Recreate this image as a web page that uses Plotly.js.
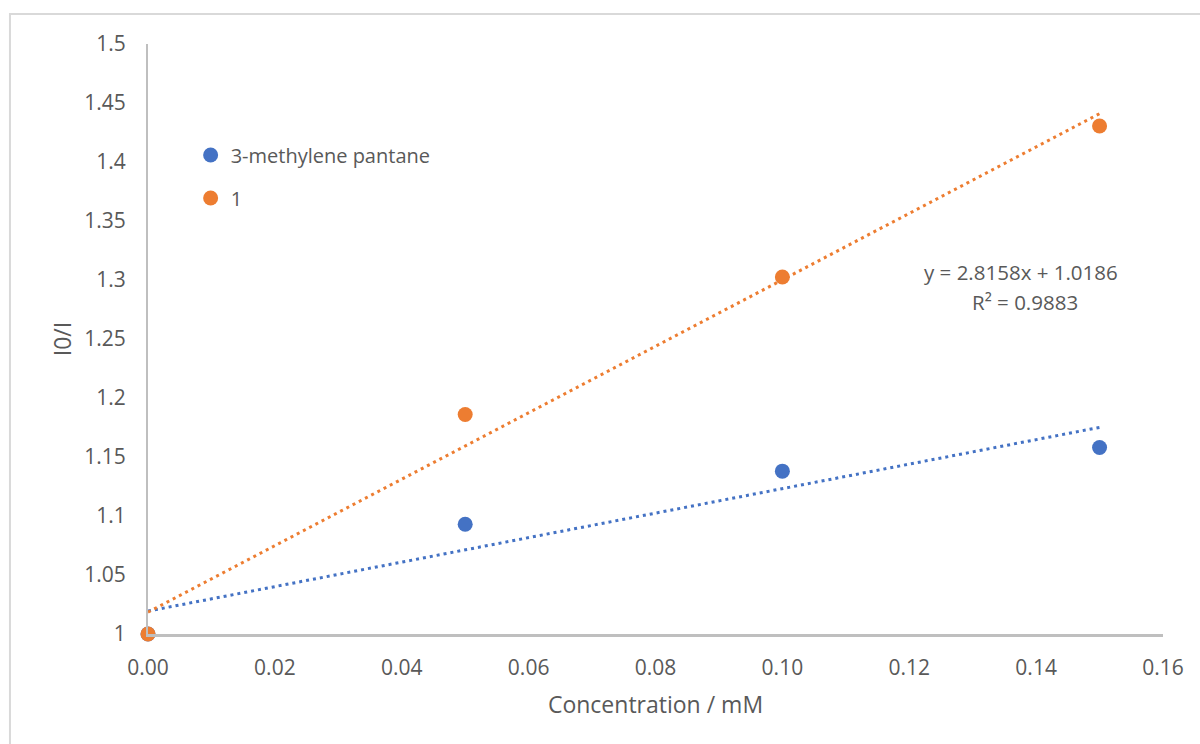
<!DOCTYPE html>
<html>
<head>
<meta charset="utf-8">
<script src="https://cdn.plot.ly/plotly-3.0.1.min.js"></script>
<style>html,body{margin:0;padding:0;background:#fff;}#chart{width:1200px;height:744px;}</style>
</head>
<body>
<div id="chart"></div>
<script>
const concentration = [0, 0.05, 0.10, 0.15];
const methylenePentane = [1.000, 1.093, 1.138, 1.158];
const compound1 = [1.000, 1.186, 1.3025, 1.4305];
const seriesNames = ["3-methylene pantane", "1"];
const xTickVals = [0, 0.02, 0.04, 0.06, 0.08, 0.10, 0.12, 0.14, 0.16];
const yTickVals = [1, 1.05, 1.1, 1.15, 1.2, 1.25, 1.3, 1.35, 1.4, 1.45, 1.5];
const equationLine = "y = 2.8158x + 1.0186";
const rSquaredLine = "R² = 0.9883";

function fit(xs, ys) {
  const n = xs.length;
  const mx = xs.reduce((a, b) => a + b, 0) / n;
  const my = ys.reduce((a, b) => a + b, 0) / n;
  let sxy = 0, sxx = 0;
  for (let i = 0; i < n; i++) { sxy += (xs[i] - mx) * (ys[i] - my); sxx += (xs[i] - mx) ** 2; }
  const m = sxy / sxx;
  return { m: m, b: my - m * mx };
}
function trend(xs, ys) {
  const f = fit(xs, ys);
  const x0 = Math.min(...xs), x1 = Math.max(...xs);
  return { x: [x0, x1], y: [f.m * x0 + f.b, f.m * x1 + f.b] };
}

const blue = "#4472C4", orange = "#ED7D31", grey = "#595959";
const fontFam = "'Open Sans', 'Liberation Sans', sans-serif";
const tB = trend(concentration, methylenePentane);
const tO = trend(concentration, compound1);

const data = [
  { x: tB.x, y: tB.y, mode: "lines", line: { color: blue, width: 3, dash: "3px,4px" }, showlegend: false, hoverinfo: "skip", cliponaxis: false },
  { x: tO.x, y: tO.y, mode: "lines", line: { color: orange, width: 3, dash: "3px,4px" }, showlegend: false, hoverinfo: "skip", cliponaxis: false },
  { x: concentration, y: methylenePentane, name: seriesNames[0], mode: "markers", legendgroup: "a", marker: { color: blue, size: 15 }, cliponaxis: false },
  { x: concentration, y: compound1, name: seriesNames[1], mode: "markers", legendgroup: "b", marker: { color: orange, size: 15 }, cliponaxis: false }
];

const layout = {
  width: 1200, height: 744,
  margin: { l: 148, r: 37, t: 44, b: 110 },
  paper_bgcolor: "#fff", plot_bgcolor: "#fff",
  font: { family: fontFam, color: grey, size: 20 },
  showlegend: true,
  legend: { x: 0.042, y: 0.845, xanchor: "left", yanchor: "top", bgcolor: "rgba(0,0,0,0)", font: { size: 20, color: grey }, traceorder: "grouped", tracegroupgap: 14, itemwidth: 30 },
  xaxis: {
    range: [0, 0.16], tickvals: xTickVals, tickformat: ".2f", showgrid: false, zeroline: false,
    showline: true, linecolor: "#bfbfbf", linewidth: 3, ticks: "", ticklen: 0, ticklabelstandoff: 13,
    tickfont: { size: 21, color: grey }, automargin: false,
    title: { text: "Concentration / mM", font: { size: 23, color: grey }, standoff: 17 }
  },
  yaxis: {
    range: [1, 1.5], tickvals: yTickVals, showgrid: false, zeroline: false,
    showline: true, linecolor: "#bfbfbf", linewidth: 2, ticks: "", ticklen: 0, ticklabelstandoff: 16,
    tickfont: { size: 21, color: grey }, automargin: false,
    title: { text: "I0/I", font: { size: 23, color: grey }, standoff: 6 }
  },
  annotations: [
    { x: 0.1376, y: 1.3068, xref: "x", yref: "y", text: equationLine, showarrow: false, font: { size: 20.5, color: grey } },
    { x: 0.1383, y: 1.2814, xref: "x", yref: "y", text: rSquaredLine, showarrow: false, font: { size: 20.5, color: grey } }
  ],
  shapes: [
    { type: "rect", xref: "paper", yref: "paper", x0: -0.136, x1: 1.2, y0: -0.4, y1: 1.0508, line: { color: "#d9d9d9", width: 2 }, fillcolor: "rgba(0,0,0,0)", layer: "below" }
  ]
};

Plotly.newPlot("chart", data, layout, { displayModeBar: false, staticPlot: true });
</script>
</body>
</html>
